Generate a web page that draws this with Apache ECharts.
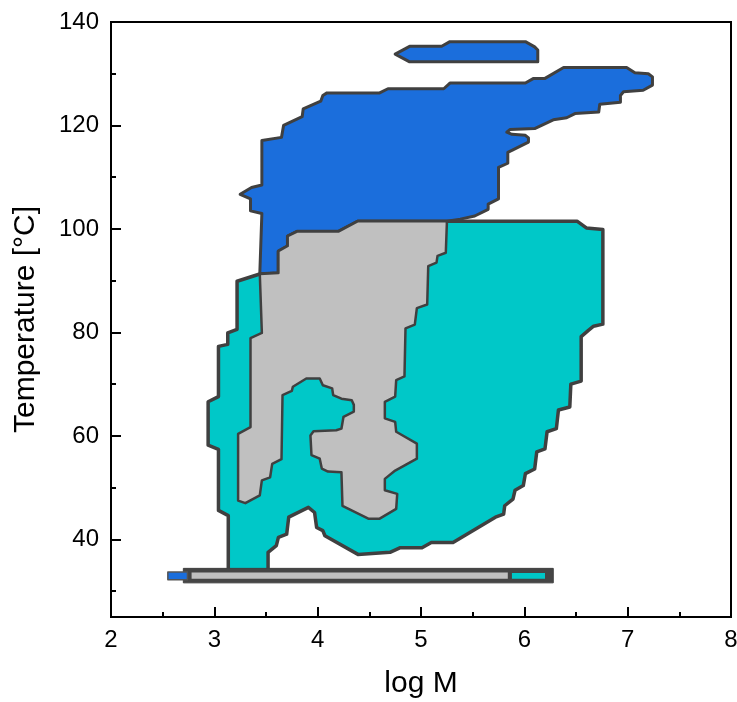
<!DOCTYPE html>
<html><head><meta charset="utf-8">
<script src="https://cdn.jsdelivr.net/npm/echarts@6/dist/echarts.min.js"></script>
<style>html,body{margin:0;padding:0;background:#fff}#c{width:737px;height:702px}</style>
</head><body><div id="c"></div>
<script>
// ---- axis ticks ----
const xTicks = [2, 3, 4, 5, 6, 7, 8];
const yTicks = [40, 60, 80, 100, 120, 140];
const yMinorTicks = [30, 50, 70, 90, 110, 130];

// ---- regions: [log M, Temperature °C] vertices ----
const blueIsland = [[4.75,133.8],[4.89,135.3],[5.20,135.3],[5.28,136.2],[6.01,136.2],[6.10,135.2],[6.13,134.6],[6.13,132.3],[4.89,132.3]];

const blueMain = [[4.09,126.3],[4.60,126.3],[4.68,127.1],[5.22,127.1],[5.28,128.2],[6.01,128.2],[6.09,129.1],[6.20,129.1],[6.38,131.2],[6.99,131.2],[7.07,130.2],[7.20,130.0],[7.24,129.4],[7.24,127.8],[7.15,126.8],[6.96,126.5],[6.93,125.8],[6.93,124.5],[6.73,124.1],[6.72,122.6],[6.49,122.3],[6.41,121.5],[6.28,121.1],[6.10,119.4],[5.86,119.2],[5.83,118.7],[5.88,118.3],[6.01,118.1],[6.04,117.6],[6.04,116.8],[5.84,114.8],[5.84,112.7],[5.75,111.9],[5.75,105.8],[5.65,104.8],[5.65,103.8],[5.52,102.5],[5.38,101.9],[5.25,101.5],
  [4.39,101.5],[4.20,99.5],[3.80,99.5],[3.71,98.6],[3.71,96.7],[3.62,95.7],[3.62,91.5],[3.44,91.3],
  [3.46,103.0],[3.35,103.5],[3.35,105.8],[3.25,106.7],[3.36,108.0],[3.46,108.5],[3.46,117.1],[3.65,117.7],[3.67,120.0],[3.85,121.7],[3.86,123.2],[4.03,124.7],[4.05,125.8]];

const tealOuter = [[3.22,89.9],[3.44,91.3],[3.62,91.5],[3.62,95.7],[3.71,96.7],[3.71,98.6],[3.80,99.5],[4.20,99.5],[4.39,101.5],[5.25,101.5],[6.51,101.5],[6.60,100.2],[6.76,99.9],[6.76,81.6],[6.67,81.2],[6.62,80.4],[6.55,79.2],[6.55,70.6],[6.45,70.0],[6.44,65.6],[6.33,65.0],[6.31,61.4],[6.22,60.8],[6.20,57.5],[6.12,56.9],[6.10,53.6],[6.01,52.7],[5.99,50.4],[5.91,49.5],[5.89,47.8],[5.81,46.5],[5.80,44.9],[5.72,44.3],[5.31,39.4],[5.10,39.4],[5.01,38.4],[4.80,38.4],[4.70,37.5],[4.39,37.1],[4.07,40.7],[4.05,41.7],[3.99,42.3],[3.97,45.2],[3.91,46.2],[3.72,44.3],[3.70,41.0],[3.62,40.4],[3.60,38.8],[3.52,37.5],[3.52,34.0],[3.135,34.0],[3.135,44.6],[3.04,45.6],[3.04,57.4],[2.94,58.2],[2.94,66.6],[3.04,67.6],[3.04,77.3],[3.13,77.7],[3.13,79.9],[3.22,80.6]];

const greyRegion = [[3.44,91.3],[3.62,91.5],[3.62,95.7],[3.71,96.7],[3.71,98.6],[3.80,99.5],[4.20,99.5],[4.39,101.5],[5.25,101.5],
  [5.25,100.9],[5.24,95.4],[5.16,94.8],[5.15,93.5],[5.07,92.8],[5.06,85.4],[4.96,84.7],[4.94,81.5],[4.85,80.8],[4.84,71.5],[4.76,70.8],[4.75,67.6],[4.65,66.6],[4.65,63.4],[4.75,62.7],[4.76,60.8],[4.96,58.5],[4.96,55.6],[4.75,53.3],[4.65,51.7],[4.65,49.5],[4.77,48.8],[4.76,45.9],[4.60,44.0],[4.49,44.0],[4.24,46.5],[4.23,53.0],[4.10,53.1],[4.04,53.7],[4.02,55.6],[3.94,56.3],[3.93,60.1],[3.96,60.9],[4.18,61.1],[4.23,61.4],[4.25,63.7],[4.35,64.7],[4.35,66.0],[4.33,66.9],[4.23,67.2],[4.15,67.9],[4.14,69.2],[4.05,69.8],[4.02,71.1],[3.89,71.1],[3.76,69.5],[3.75,68.7],[3.66,67.9],[3.65,55.5],[3.56,54.6],[3.54,52.0],[3.46,51.4],[3.44,48.5],[3.30,47.0],[3.23,47.5],[3.23,60.4],[3.35,61.7],[3.35,78.9],[3.46,79.9]];

// thin band at ~33 °C
const bandOuter = [[2.70,31.6],[6.28,31.6],[6.28,34.4],[2.70,34.4]];
const bandBlue = [[2.55,32.2],[2.74,32.2],[2.74,33.7],[2.55,33.7]];
const bandGrey = [[2.78,32.4],[5.84,32.4],[5.84,33.6],[2.78,33.6]];
const bandTeal = [[5.88,32.4],[6.20,32.4],[6.20,33.5],[5.88,33.5]];

const BLUE = '#1b6edc', TEAL = '#00c8c8', GREY = '#c0c0c0', EDGE = '#404040';

function poly(name, pts, fill, lw, stroke) {
  return {
    type: 'custom', name: name, coordinateSystem: 'cartesian2d',
    data: pts, encode: { x: 0, y: 1 }, silent: true, animation: false, clip: false,
    renderItem: function (params, api) {
      if (params.dataIndex !== 0) return null;
      return {
        type: 'polygon',
        shape: { points: pts.map(function (p) { return api.coord(p); }) },
        style: { fill: fill, stroke: stroke || EDGE, lineWidth: lw, lineJoin: 'round' }
      };
    }
  };
}

const font = 'Liberation Sans, Arial, Helvetica, sans-serif';
const chart = echarts.init(document.getElementById('c'), null, { renderer: 'canvas' });
chart.setOption({
  backgroundColor: '#fff',
  animation: false,
  grid: { left: 111, right: 6, top: 22, bottom: 85, show: true, borderColor: '#000', borderWidth: 2, backgroundColor: 'transparent', containLabel: false, outerBoundsMode: 'none' },
  xAxis: {
    type: 'value', min: xTicks[0], max: xTicks[xTicks.length - 1], interval: 1,
    name: 'log M', nameLocation: 'middle', nameGap: 52,
    nameTextStyle: { fontSize: 30, fontFamily: font, color: '#000' },
    axisLine: { show: true, onZero: false, lineStyle: { color: '#000', width: 2 } },
    axisTick: { show: true, inside: true, length: 10, lineStyle: { color: '#000', width: 2 } },
    minorTick: { show: true, splitNumber: 2, length: 5, lineStyle: { color: '#000', width: 2 } },
    axisLabel: { fontSize: 24, fontFamily: font, color: '#000', margin: 11 },
    splitLine: { show: false }
  },
  yAxis: [{
    type: 'value', min: 25, max: 140, position: 'left',
    name: 'Temperature [°C]', nameLocation: 'middle', nameGap: 70,
    nameTextStyle: { fontSize: 30, fontFamily: font, color: '#000' },
    axisLine: { show: true, onZero: false, lineStyle: { color: '#000', width: 2 } },
    axisTick: { show: true, inside: true, length: 10, customValues: yTicks, lineStyle: { color: '#000', width: 2 } },
    axisLabel: { fontSize: 24, fontFamily: font, color: '#000', margin: 12, customValues: yTicks },
    splitLine: { show: false }
  }, {
    type: 'value', min: 25, max: 140, position: 'left',
    axisLine: { show: false },
    axisTick: { show: true, inside: true, length: 5, customValues: yMinorTicks, lineStyle: { color: '#000', width: 2 } },
    axisLabel: { show: false },
    splitLine: { show: false }
  }],
  series: [
    poly('blueIsland', blueIsland, BLUE, 3),
    poly('blueMain', blueMain, BLUE, 3),
    poly('tealOuter', tealOuter, TEAL, 3.5),
    poly('greyRegion', greyRegion, GREY, 2.5),
    poly('bandOuter', bandOuter, '#454545', 1),
    poly('bandBlue', bandBlue, BLUE, 1.5, '#555'),
    poly('bandGrey', bandGrey, GREY, 0),
    poly('bandTeal', bandTeal, TEAL, 0)
  ]
});
</script>
</body></html>
